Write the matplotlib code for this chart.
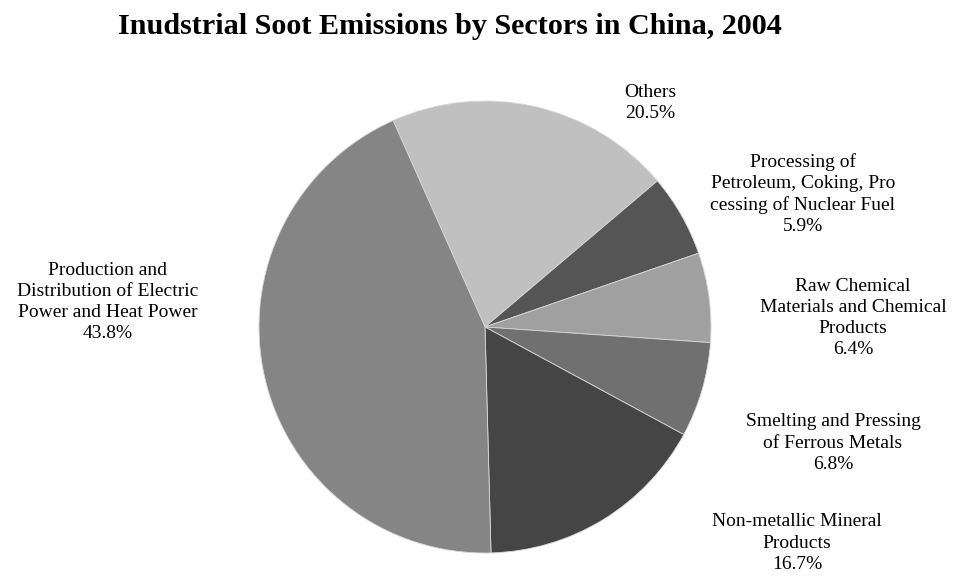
import matplotlib.pyplot as plt

# Sector names and shares (%), clockwise from "Others"
sectors = ['Others',
           'Processing of\nPetroleum, Coking, Pro\ncessing of Nuclear Fuel',
           'Raw Chemical\nMaterials and Chemical\nProducts',
           'Smelting and Pressing\nof Ferrous Metals',
           'Non-metallic Mineral\nProducts',
           'Production and\nDistribution of Electric\nPower and Heat Power']
shares = [20.5, 5.9, 6.4, 6.8, 16.7, 43.8]
colors = ['#c0c0c0', '#555555', '#a0a0a0', '#707070', '#454545', '#858585']

# label centres in pixels (x from left, y from top)
label_x = [650, 803, 853, 833, 797, 108]
label_y = [103, 194, 318, 443, 543, 302]

W, H = 958, 576
fig = plt.figure(figsize=(W / 100, H / 100), dpi=100)
plt.rcParams['font.family'] = ['Liberation Serif', 'DejaVu Serif']

cx, cy, r = 485, 327, 226
ax = fig.add_axes([(cx - r) / W, (H - cy - r) / H, 2 * r / W, 2 * r / H])
ax.pie(shares, colors=colors, startangle=114, counterclock=False,
       wedgeprops=dict(edgecolor='#d8d8d8', linewidth=0.6))
ax.set_xlim(-1, 1)
ax.set_ylim(-1, 1)
ax.set_aspect('equal')
ax.axis('off')

for name, val, x, y in zip(sectors, shares, label_x, label_y):
    fig.text(x / W, 1 - y / H, f'{name}\n{val:.1f}%', ha='center', va='center',
             fontsize=14, linespacing=1.32)

fig.text(450 / W, 1 - 34 / H, 'Inudstrial Soot Emissions by Sectors in China, 2004',
         ha='center', va='baseline', fontsize=21.7, fontweight='bold')

fig.savefig('out.png', dpi=100)
